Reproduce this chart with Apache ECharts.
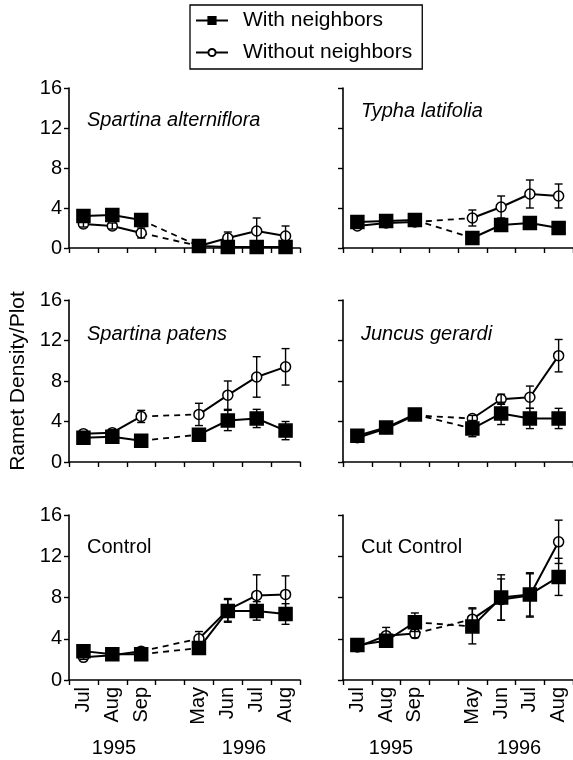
<!DOCTYPE html>
<html>
<head>
<meta charset="UTF-8">
<title>Ramet density per plot</title>
<script src="https://cdn.jsdelivr.net/npm/echarts@6/dist/echarts.min.js"></script>
<style>
  html, body { margin: 0; padding: 0; background: #fff; }
  #main { width: 573px; height: 760px; }
</style>
</head>
<body>
<div id="main"></div>
<script>
// 月份（第4格留空，隔开1995和1996）
var months = ['Jul', 'Aug', 'Sep', '', 'May', 'Jun', 'Jul', 'Aug'];
var gapIndex = 3;
var years = ['1995', '1996'];

var panelNames = ['Spartina alterniflora', 'Typha latifolia', 'Spartina patens',
                  'Juncus gerardi', 'Control', 'Cut Control'];
var panelItalic = [true, true, true, true, false, false];

// 有邻居（实心方块）
var withMean = [
  [3.2, 3.3, 2.8, 0.2, 0.1, 0.1, 0.1],
  [2.6, 2.7, 2.8, 1.0, 2.3, 2.5, 2.0],
  [2.4, 2.5, 2.1, 2.7, 4.1, 4.3, 3.1],
  [2.6, 3.4, 4.7, 3.3, 4.8, 4.3, 4.3],
  [2.8, 2.5, 2.5, 3.1, 6.7, 6.7, 6.4],
  [3.4, 3.8, 5.6, 5.2, 8.0, 8.3, 10.0]
];
var withErr = [
  [0.3, 0.3, 0.4, 0.1, 0.1, 0.1, 0.1],
  [0.2, 0.2, 0.2, 0.2, 0.3, 0.3, 0.4],
  [0.3, 0.4, 0.2, 0.3, 1.0, 0.9, 0.9],
  [0.3, 0.3, 0.5, 0.8, 1.1, 1.0, 1.0],
  [0.4, 0.2, 0.3, 0.4, 1.1, 0.9, 1.0],
  [0.3, 0.5, 0.9, 1.7, 2.2, 2.1, 1.8]
];
// 无邻居（空心圆）
var withoutMean = [
  [2.4, 2.2, 1.5, 0.2, 1.0, 1.7, 1.2],
  [2.2, 2.5, 2.6, 3.0, 4.1, 5.4, 5.2],
  [2.8, 2.9, 4.5, 4.7, 6.6, 8.4, 9.4],
  [2.4, 3.3, 4.6, 4.3, 6.2, 6.4, 10.5],
  [2.2, 2.4, 2.8, 4.0, 6.8, 8.2, 8.3],
  [3.2, 4.3, 4.5, 5.9, 7.8, 8.2, 13.4]
];
var withoutErr = [
  [0.3, 0.3, 0.5, 0.1, 0.6, 1.3, 1.0],
  [0.2, 0.2, 0.2, 0.8, 1.1, 1.4, 1.2],
  [0.2, 0.3, 0.6, 1.1, 1.4, 2.0, 1.8],
  [0.2, 0.3, 0.4, 0.3, 0.5, 1.1, 1.6],
  [0.2, 0.2, 0.3, 0.7, 1.1, 2.0, 1.8],
  [0.2, 0.8, 0.4, 1.1, 2.0, 2.1, 2.1]
];

var FONT = "'Liberation Sans', Arial, Helvetica, sans-serif";

// 每个面板的网格位置
var colLeft = [69, 343];
var colWidth = [231, 232];
var rowTop = [88, 300, 515];
var rowHeight = [160, 162, 165];

// 把7个值插到8格里（空出间隔格）
function toSlots(arr) {
  var out = [];
  for (var i = 0; i < months.length; i++) {
    if (i < gapIndex) out.push(arr[i]);
    else if (i === gapIndex) out.push('-');
    else out.push(arr[i - 1]);
  }
  return out;
}
function pick(slots, test) {
  return slots.map(function (v, i) { return test(i) ? v : '-'; });
}

var grids = [], xAxes = [], yAxes = [], series = [], graphics = [];

panelNames.forEach(function (name, p) {
  var row = Math.floor(p / 2), col = p % 2;
  grids.push({ left: colLeft[col], top: rowTop[row], width: colWidth[col], height: rowHeight[row] });

  xAxes.push({
    gridIndex: p, type: 'category', data: months, boundaryGap: true,
    axisLine: { lineStyle: { color: '#000', width: 1.6 } },
    axisTick: { show: true, length: 5, interval: 0, lineStyle: { color: '#000', width: 1.4 } },
    axisLabel: {
      show: row === 2, rotate: 90, interval: 0, margin: 7,
      color: '#000', fontSize: 20, fontFamily: FONT
    },
    splitLine: { show: false }
  });

  var y = {
    gridIndex: p, type: 'value', min: 0, max: 16, interval: 4,
    axisLine: { show: true, lineStyle: { color: '#000', width: 1.6 } },
    axisTick: { show: true, length: 5, lineStyle: { color: '#000', width: 1.4 } },
    axisLabel: { show: col === 0, color: '#000', fontSize: 20, fontFamily: FONT, margin: 7 },
    splitLine: { show: false }
  };
  if (p === 2) {
    y.name = 'Ramet Density/Plot';
    y.nameLocation = 'middle';
    y.nameGap = 40;
    y.nameTextStyle = { color: '#000', fontSize: 21, fontFamily: FONT };
  }
  yAxes.push(y);

  graphics.push({
    type: 'text', x: colLeft[col] + 18, y: [120, 334, 547][row] - (col === 1 && row === 0 ? 9 : 0),
    style: {
      text: name, fill: '#000', verticalAlign: 'middle',
      font: (panelItalic[p] ? 'italic ' : '') + '20px ' + FONT
    }
  });

  // 两组：先画空心圆，再画实心方块
  [
    { label: 'Without neighbors', mean: withoutMean[p], err: withoutErr[p], symbol: 'circle', size: 10, fill: '#fff', z: 3 },
    { label: 'With neighbors', mean: withMean[p], err: withErr[p], symbol: 'rect', size: 13, fill: '#000', z: 4 }
  ].forEach(function (g) {
    var slots = toSlots(g.mean);
    var base = {
      type: 'line', xAxisIndex: p, yAxisIndex: p, name: g.label,
      symbol: g.symbol, symbolSize: g.size, showSymbol: true,
      itemStyle: { color: g.fill, borderColor: '#000', borderWidth: 1.5, opacity: 1 },
      lineStyle: { color: '#000', width: 2 },
      emphasis: { disabled: true }, animation: false, z: g.z
    };
    series.push(Object.assign({}, base, { data: pick(slots, function (i) { return i < gapIndex; }) }));
    series.push(Object.assign({}, base, { data: pick(slots, function (i) { return i > gapIndex; }) }));
    // 跨年虚线
    series.push({
      type: 'line', xAxisIndex: p, yAxisIndex: p, name: g.label + ' link',
      data: pick(slots, function (i) { return i === gapIndex - 1 || i === gapIndex + 1; }),
      connectNulls: true, symbol: 'none',
      lineStyle: { color: '#000', width: 1.8, type: [6, 5] },
      emphasis: { disabled: true }, animation: false, z: 2
    });
    // 误差线
    var errData = [];
    toSlots(g.err).forEach(function (e, i) {
      if (e !== '-') errData.push([i, slots[i], e]);
    });
    series.push({
      type: 'custom', xAxisIndex: p, yAxisIndex: p, name: g.label + ' err',
      data: errData, animation: false, z: g.z + 2,
      encode: { x: 0, y: 1 },
      renderItem: function (params, api) {
        var i = api.value(0), m = api.value(1), e = api.value(2);
        var top = api.coord([i, m + e]);
        var bot = api.coord([i, Math.max(0, m - e)]);
        var w = 4;
        var st = { stroke: '#000', lineWidth: 1.4 };
        return {
          type: 'group', children: [
            { type: 'line', shape: { x1: top[0], y1: top[1], x2: bot[0], y2: bot[1] }, style: st },
            { type: 'line', shape: { x1: top[0] - w, y1: top[1], x2: top[0] + w, y2: top[1] }, style: st },
            { type: 'line', shape: { x1: bot[0] - w, y1: bot[1], x2: bot[0] + w, y2: bot[1] }, style: st }
          ]
        };
      }
    });
  });
});

// 年份标签
[0, 1].forEach(function (col) {
  var centers = col === 0 ? [114, 244] : [391, 519];
  years.forEach(function (yr, k) {
    graphics.push({
      type: 'text', x: centers[k], y: 748,
      style: { text: yr, fill: '#000', align: 'center', verticalAlign: 'middle', font: '20px ' + FONT }
    });
  });
});

var chart = echarts.init(document.getElementById('main'));
chart.setOption({
  backgroundColor: '#fff',
  animation: false,
  legend: {
    data: ['With neighbors', 'Without neighbors'],
    orient: 'vertical', left: 190, top: 5,
    padding: [5, 10, 6, 5], itemGap: 11,
    itemWidth: 32, itemHeight: 9,
    borderColor: '#000', borderWidth: 1.3, borderRadius: 0,
    selectedMode: false,
    textStyle: { color: '#000', fontSize: 21, fontFamily: FONT, padding: [0, 0, 0, 10] }
  },
  grid: grids,
  xAxis: xAxes,
  yAxis: yAxes,
  series: series,
  graphic: graphics
});
</script>
</body>
</html>
